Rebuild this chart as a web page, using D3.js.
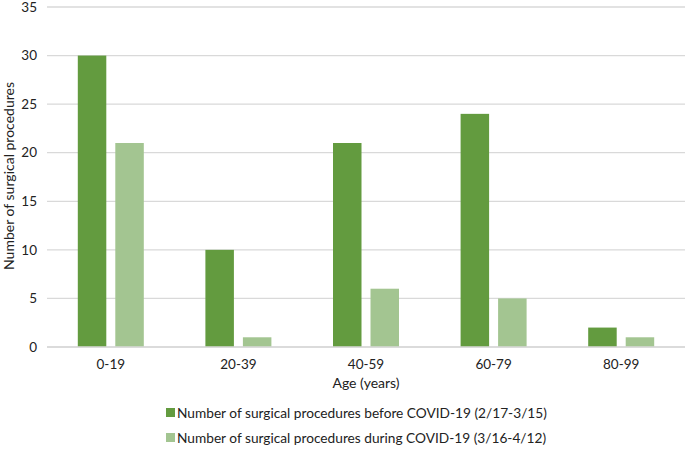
<!DOCTYPE html>
<html><head><meta charset="utf-8">
<script src="https://cdn.jsdelivr.net/npm/d3@7"></script>
<style>body{margin:0;background:#fff;} text{font-family:Lato, "Open Sans", sans-serif;fill:#222;}</style>
</head><body>
<svg id="c" width="685" height="450"></svg>
<script>
const categories = ["0-19","20-39","40-59","60-79","80-99"];
const before = [30,10,21,24,2];
const during = [21,1,6,5,1];
const seriesNames = ["Number of surgical procedures before COVID-19 (2/17-3/15)","Number of surgical procedures during COVID-19 (3/16-4/12)"];
const yTicks = [0,5,10,15,20,25,30,35];
const colors = ["#639b3f","#a3c591"];

(function(){
const svg = d3.select("#c");
const mL = 47, mR = 685, mT = 7, mB = 347;
const x = d3.scaleBand().domain(categories).range([mL,mR]);
const y = d3.scaleLinear().domain([0,35]).range([mB,mT]);

svg.append("g").selectAll("line").data(yTicks).join("line")
  .attr("x1",mL).attr("x2",mR).attr("y1",d=>y(d)).attr("y2",d=>y(d))
  .attr("stroke","#d9d9d9").attr("stroke-width",1.3);
svg.append("g").selectAll("text").data(yTicks).join("text")
  .attr("x",37).attr("y",d=>y(d)).attr("dy","0.35em").attr("text-anchor","end")
  .attr("font-size",13.5).text(d=>d);

const inner = d3.scaleBand().domain([0,1]).range([0,66]).paddingInner(0.24);
const data = [before,during];
data.forEach((vals,si)=>{
  svg.append("g").selectAll("rect").data(vals).join("rect")
    .attr("x",(d,i)=>x(categories[i])+x.bandwidth()/2-33+inner(si))
    .attr("width",inner.bandwidth())
    .attr("y",d=>y(d)).attr("height",d=>y(0)-y(d))
    .attr("fill",colors[si]);
});
svg.append("line").attr("x1",mL).attr("x2",mR).attr("y1",y(0)).attr("y2",y(0))
  .attr("stroke","#d9d9d9").attr("stroke-width",1.3);

svg.append("g").selectAll("text").data(categories).join("text")
  .attr("x",d=>x(d)+x.bandwidth()/2).attr("y",369).attr("text-anchor","middle")
  .attr("font-size",13.5).text(d=>d);

svg.append("text").attr("x",366).attr("y",388).attr("text-anchor","middle").attr("font-size",14).text("Age (years)");
svg.append("text").attr("transform","translate(14,176) rotate(-90)").attr("text-anchor","middle").attr("font-size",14).text("Number of surgical procedures");

const lg = svg.append("g");
seriesNames.forEach((n,i)=>{
  const yy = 413 + i*25;
  lg.append("rect").attr("x",166).attr("y",yy-5).attr("width",9).attr("height",9).attr("fill",colors[i]);
  lg.append("text").attr("x",177).attr("y",yy).attr("dy","0.35em").attr("font-size",13.7).text(n);
});
})();
</script>
</body></html>
